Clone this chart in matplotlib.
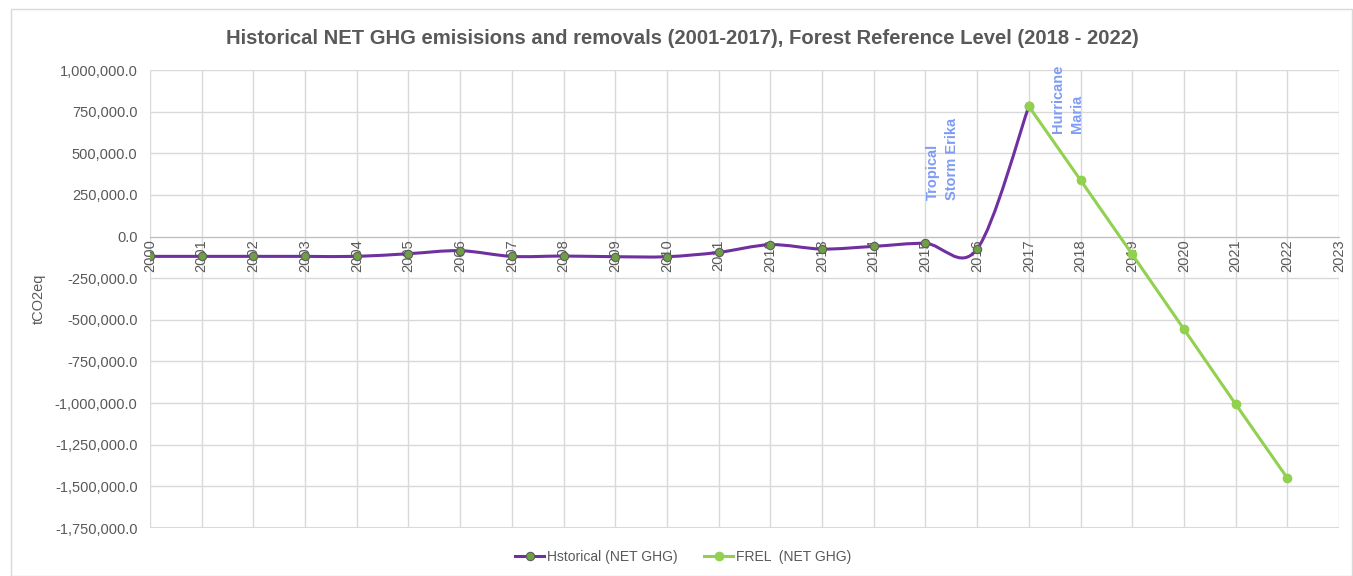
import numpy as np
import matplotlib.pyplot as plt
from matplotlib.path import Path
from matplotlib.patches import PathPatch, Rectangle
from matplotlib.lines import Line2D
from matplotlib.ticker import FuncFormatter, MultipleLocator

plt.rcParams['font.family'] = ['Liberation Sans', 'DejaVu Sans']

# Historical net emissions / removals (tCO2eq)
hist_years = list(range(2000, 2018))
hist_vals = [-119000, -119000, -119000, -119000, -119000, -103000, -85000, -119000, -117000,
             -121000, -121000, -95000, -49000, -75000, -59000, -41000, -75000, 782000]

# Forest reference level
frel_years = [2017, 2018, 2019, 2020, 2021, 2022]
frel_vals = [782000, 339000, -107000, -556000, -1006000, -1450000]

x_ticks = list(range(2000, 2024))

PURPLE = '#7030A0'
GREEN = '#92D050'
MARK = '#6E9F45'
GREY = '#595959'
NOTE = '#7F9CF5'


def smooth_path(xs, ys):
    # bezier curve through the points, like a "smoothed line" in a spreadsheet
    pts = np.column_stack([xs, ys]).astype(float)
    n = len(pts)
    verts = [pts[0]]
    codes = [Path.MOVETO]
    for i in range(n - 1):
        p0 = pts[i - 1] if i > 0 else pts[i]
        p1 = pts[i]
        p2 = pts[i + 1]
        p3 = pts[i + 2] if i + 2 < n else pts[i + 1]
        c1 = p1 + (p2 - p0) / 6.0
        c2 = p2 - (p3 - p1) / 6.0
        verts += [c1, c2, p2]
        codes += [Path.CURVE4] * 3
    return Path(verts, codes)


fig = plt.figure(figsize=(13.53, 5.76), dpi=100)
ax = fig.add_axes([150 / 1353, 1 - 528 / 576, (1339 - 150) / 1353, (528 - 70) / 576])

ax.set_xlim(2000, 2023)
ax.set_ylim(-1750000, 1000000)
ax.set_xticks(x_ticks)
ax.yaxis.set_major_locator(MultipleLocator(250000))
ax.yaxis.set_major_formatter(FuncFormatter(lambda v, p: f'{v:,.1f}'))
ax.grid(True, color='#D9D9D9', lw=1)
ax.set_axisbelow(True)

for s in ['top', 'right', 'left']:
    ax.spines[s].set_visible(False)
ax.spines['bottom'].set_position(('data', 0))
ax.spines['bottom'].set_color('#BFBFBF')
ax.axhline(-1750000, color='#D9D9D9', lw=1.5, zorder=0)

ax.tick_params(axis='x', length=0, pad=2, labelrotation=90, labelsize=10.5, colors=GREY)
ax.tick_params(axis='y', length=0, pad=9, labelsize=10.5, colors=GREY)
for lab in ax.get_xticklabels():
    lab.set_verticalalignment('top')

ax.add_patch(PathPatch(smooth_path(hist_years, hist_vals), facecolor='none',
                       edgecolor=PURPLE, lw=2.2, zorder=3))
ax.plot(hist_years, hist_vals, ls='none', marker='o', ms=6, mfc=MARK, mec='#5E5E5E',
        mew=0.8, zorder=4)
ax.plot(frel_years, frel_vals, color=GREEN, lw=2.2, marker='o', ms=6, mfc=GREEN,
        mec=GREEN, zorder=5)

ax.text(2015.33, 220000, 'Tropical\nStorm Erika', rotation=90, color=NOTE,
        fontsize=10.5, fontweight='bold', ha='center', va='bottom', multialignment='left',
        linespacing=1.45)
ax.text(2017.74, 622000, 'Hurricane\nMaria', rotation=90, color=NOTE,
        fontsize=10.5, fontweight='bold', ha='center', va='bottom', multialignment='left',
        linespacing=1.45)

ax.set_ylabel('tCO2eq', color=GREY, fontsize=10.5)
ax.yaxis.set_label_coords(-0.088, 0.5)

fig.text(0.5045, 1 - 38 / 576,
         'Historical NET GHG emisisions and removals (2001-2017), Forest Reference Level (2018 - 2022)',
         ha='center', va='center', fontsize=14.6, fontweight='bold', color=GREY)

handles = [
    Line2D([], [], color=PURPLE, lw=2.2, marker='o', ms=6, mfc=MARK, mec='#5E5E5E', mew=0.8),
    Line2D([], [], color=GREEN, lw=2.2, marker='o', ms=6, mfc=GREEN, mec=GREEN),
]
fig.legend(handles, ['Hstorical (NET GHG)', 'FREL  (NET GHG)'], loc='center',
           bbox_to_anchor=(0.505, 1 - 557 / 576), ncol=2, frameon=False, fontsize=10,
           labelcolor=GREY, handlelength=2.1, columnspacing=1.9, handletextpad=0.2)

fig.patches.append(Rectangle((11 / 1353, 0), 1 - 12 / 1353, 1 - 9 / 576, transform=fig.transFigure,
                             fill=False, edgecolor='#D9D9D9', lw=1))

fig.savefig('out.png', dpi=100)
